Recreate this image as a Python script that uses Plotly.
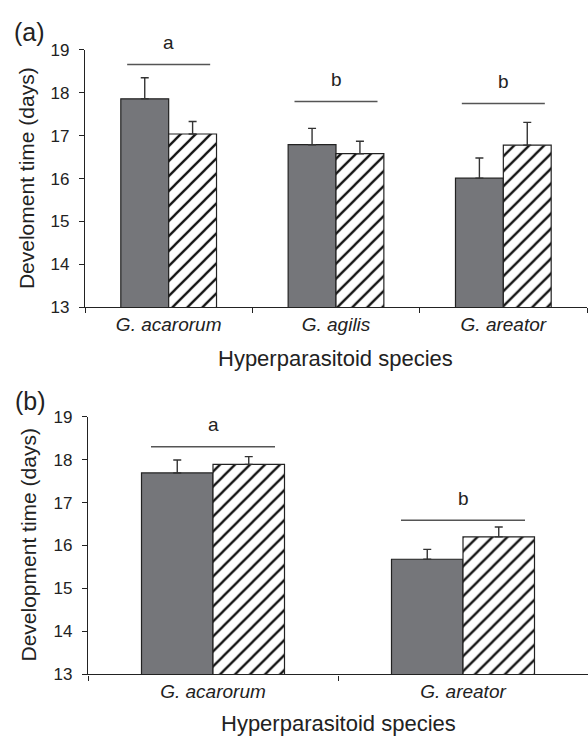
import plotly.graph_objects as go

# ---------------- data ----------------
species_a = ["G. acarorum", "G. agilis", "G. areator"]
dark_a = [17.86, 16.79, 16.01]
dark_a_err = [0.49, 0.38, 0.47]
hatch_a = [17.04, 16.58, 16.78]
hatch_a_err = [0.29, 0.29, 0.53]
letters_a = ["a", "b", "b"]
letter_line_a = [18.66, 17.80, 17.75]

species_b = ["G. acarorum", "G. areator"]
dark_b = [17.69, 15.68]
dark_b_err = [0.30, 0.23]
hatch_b = [17.89, 16.20]
hatch_b_err = [0.18, 0.23]
letters_b = ["a", "b"]
letter_line_b = [18.30, 16.59]

y_ticks = [13, 14, 15, 16, 17, 18, 19]

# ---------------- style ----------------
W, H = 588, 748
FONT = "Liberation Sans, Arial, Helvetica, sans-serif"
DARK = "#75767a"
EDGE = "#222222"
AX = "#222222"

def py(px):  # pixel y -> paper
    return 1 - px / H

def px_(x):
    return x / W

fig = go.Figure()

def add_panel(cats, dark, dark_err, hatch, hatch_err, xa, ya):
    fig.add_trace(go.Bar(
        x=cats, y=dark, xaxis=xa, yaxis=ya, showlegend=False,
        marker=dict(color=DARK, line=dict(color=EDGE, width=1.2)),
        error_y=dict(type="data", symmetric=False, array=dark_err,
                     arrayminus=[0] * len(dark_err), color="#333333",
                     thickness=1.4, width=4),
    ))
    fig.add_trace(go.Bar(
        x=cats, y=hatch, xaxis=xa, yaxis=ya, showlegend=False,
        marker=dict(color="white", line=dict(color=EDGE, width=1.2),
                    pattern=dict(shape="/", fgcolor="#111111", bgcolor="white",
                                 size=10.6, solidity=0.22, fillmode="replace")),
        error_y=dict(type="data", symmetric=False, array=hatch_err,
                     arrayminus=[0] * len(hatch_err), color="#333333",
                     thickness=1.4, width=4),
    ))

add_panel(species_a, dark_a, dark_a_err, hatch_a, hatch_a_err, "x", "y")
add_panel(species_b, dark_b, dark_b_err, hatch_b, hatch_b_err, "x2", "y2")

xaxis_common = dict(type="category", showline=True, linecolor=AX, linewidth=1.3,
                    ticks="outside", tickson="boundaries", ticklen=5, tickcolor=AX,
                    tickwidth=1.2, showgrid=False, zeroline=False,
                    tickfont=dict(family=FONT, size=19, color="#222"),
                    fixedrange=True)
yaxis_common = dict(range=[13, 19], tickvals=y_ticks, showline=True, linecolor=AX,
                    linewidth=1.3, ticks="outside", ticklen=5, tickcolor=AX,
                    tickwidth=1.2, showgrid=False, zeroline=False,
                    ticklabelstandoff=6,
                    tickfont=dict(family=FONT, size=17, color="#222"))

fig.update_layout(
    width=W, height=H,
    margin=dict(l=0, r=0, t=0, b=0),
    paper_bgcolor="white", plot_bgcolor="white",
    barmode="group", bargap=0.428, bargroupgap=0,
    xaxis=dict(domain=[px_(85), px_(587)], anchor="y", **xaxis_common),
    yaxis=dict(domain=[py(306), py(42)], anchor="x", **yaxis_common),
    xaxis2=dict(domain=[px_(88), 1.0], anchor="y2", **xaxis_common),
    yaxis2=dict(domain=[py(682.7), py(418.3)], anchor="x2", **yaxis_common),
)

shapes = []
annotations = []
for xa, ya, letters, lines in (("x", "y", letters_a, letter_line_a),
                                ("x2", "y2", letters_b, letter_line_b)):
    for i, (lt, ly) in enumerate(zip(letters, lines)):
        shapes.append(dict(type="line", xref=xa, yref=ya, x0=i - 0.248, x1=i + 0.248,
                           y0=ly, y1=ly, line=dict(color="#555555", width=1.5)))
        annotations.append(dict(x=i, y=ly, xref=xa, yref=ya, text=lt, showarrow=False,
                                yanchor="middle", yshift=22,
                                font=dict(family=FONT, size=19, color="#222")))

# axis titles and panel labels
annotations += [
    dict(text="Develoment time (days)", x=px_(26.5), y=py(174), xref="paper", yref="paper",
         textangle=-90, showarrow=False, xanchor="center", yanchor="middle",
         font=dict(family=FONT, size=21, color="#222")),
    dict(text="Hyperparasitoid species", x=px_(335), y=py(359), xref="paper", yref="paper",
         showarrow=False, xanchor="center", yanchor="middle",
         font=dict(family=FONT, size=22, color="#222")),
    dict(text="Development time (days)", x=px_(29), y=py(550.5), xref="paper", yref="paper",
         textangle=-90, showarrow=False, xanchor="center", yanchor="middle",
         font=dict(family=FONT, size=21, color="#222")),
    dict(text="Hyperparasitoid species", x=px_(338), y=py(733), xref="paper", yref="paper",
         showarrow=False, xanchor="center", yanchor="middle",
         font=dict(family=FONT, size=22, color="#222")),
    dict(text="(a)", x=px_(29.5), y=py(24), xref="paper", yref="paper",
         showarrow=False, xanchor="center", yanchor="middle",
         font=dict(family=FONT, size=25, color="#222")),
    dict(text="(b)", x=px_(30), y=py(402), xref="paper", yref="paper",
         showarrow=False, xanchor="center", yanchor="middle",
         font=dict(family=FONT, size=25, color="#222")),
]

fig.update_layout(shapes=shapes, annotations=annotations)

# italic species tick labels
fig.update_xaxes(ticktext=[f"<i>{s}</i>" for s in species_a], tickvals=species_a,
                 selector=dict(anchor="y"))
fig.update_xaxes(ticktext=[f"<i>{s}</i>" for s in species_b], tickvals=species_b,
                 selector=dict(anchor="y2"))

post = (
    "document.documentElement.style.margin='0';"
    "document.documentElement.style.overflow='hidden';"
    "document.body.style.margin='0';"
    "document.body.style.overflow='hidden';"
)

fig.write_html("out.html", config={"displayModeBar": False}, post_script=post)
